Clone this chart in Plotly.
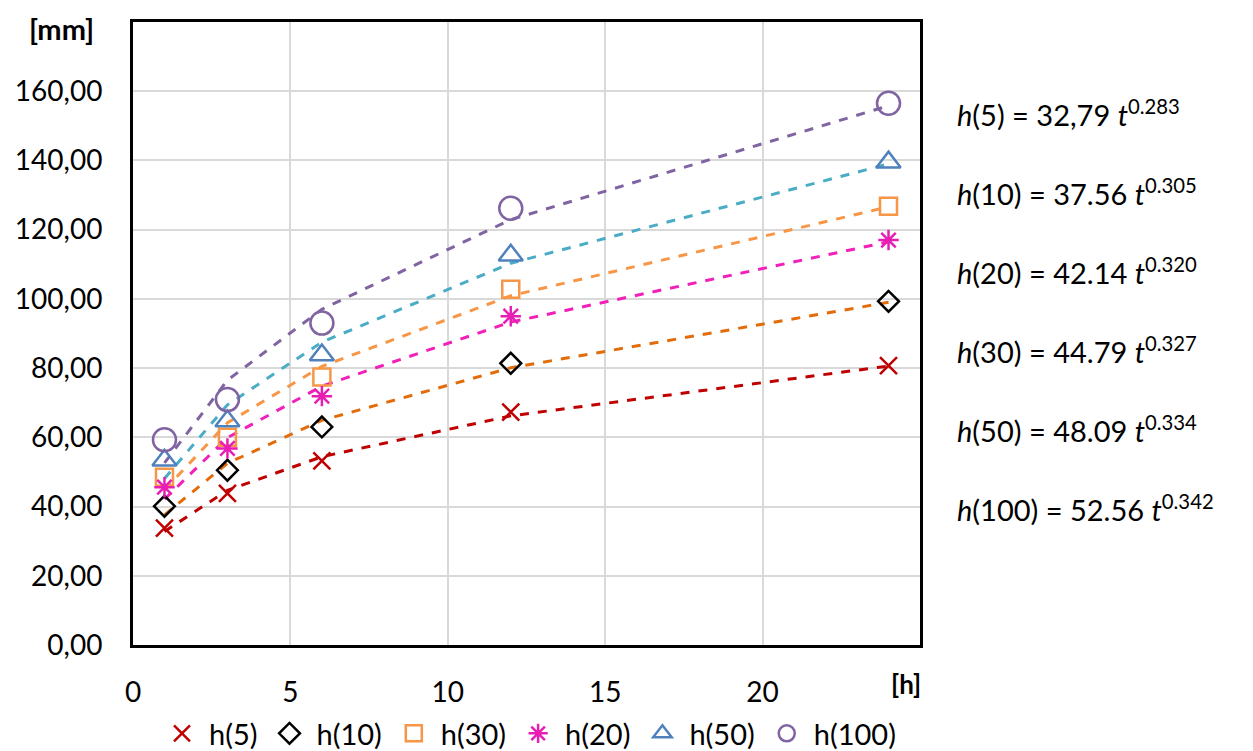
import plotly.graph_objects as go

# durations [h]
t = [1, 3, 6, 12, 24]

h5 = [33.8, 43.8, 53.2, 67.3, 80.7]
h10 = [40.1, 50.5, 63.0, 81.4, 99.3]
h30 = [48.5, 60.0, 77.4, 102.8, 126.8]
h20 = [45.6, 56.8, 71.9, 95.0, 117.0]
h50 = [53.4, 64.7, 83.8, 112.6, 139.5]
h100 = [59.3, 70.9, 93.0, 126.2, 156.5]

# dashed trend lines as drawn on the chart
tr5 = [32.8, 44.7, 54.4, 66.2, 80.6]
tr10 = [37.6, 52.5, 64.9, 80.1, 99.0]
tr30 = [44.8, 64.2, 80.5, 100.9, 126.6]
tr20 = [42.1, 59.9, 74.8, 93.3, 116.5]
tr50 = [48.1, 69.4, 87.5, 110.3, 139.0]
tr100 = [52.6, 76.5, 97.0, 122.9, 155.8]

equations = [
    "<i>h</i>(5) = 32,79 <i>t</i><sup>0.283</sup>",
    "<i>h</i>(10) = 37.56 <i>t</i><sup>0.305</sup>",
    "<i>h</i>(20) = 42.14 <i>t</i><sup>0.320</sup>",
    "<i>h</i>(30) = 44.79 <i>t</i><sup>0.327</sup>",
    "<i>h</i>(50) = 48.09 <i>t</i><sup>0.334</sup>",
    "<i>h</i>(100) = 52.56 <i>t</i><sup>0.342</sup>",
]

font = "Lato"

W, H = 1253, 751
OFF = 8  # page body margin
L, R, T, B = 133 - OFF, 333 + OFF, 22 - OFF, 106 + OFF
pw, ph = W - L - R, H - T - B


def px(x, y):
    # screen pixel position -> paper coords
    return (x - OFF - L) / pw, 1 - (y - OFF - T) / ph


fig = go.Figure()

trends = [
    (tr5, "#C00000"),
    (tr10, "#E36C0A"),
    (tr30, "#F79646"),
    (tr20, "#F020B8"),
    (tr50, "#4BACC6"),
    (tr100, "#8064A2"),
]
for y, c in trends:
    fig.add_trace(go.Scatter(x=t, y=y, mode="lines", showlegend=False,
                             line=dict(color=c, width=3, dash="dash"),
                             hoverinfo="skip"))

series = [
    ("h(5)", h5, "x-thin-open", "#C00000", 17),
    ("h(10)", h10, "diamond-open", "#000000", 16),
    ("h(30)", h30, "square-open", "#F79646", 17),
    ("h(20)", h20, "asterisk-open", "#E81EB4", 17),
    ("h(50)", h50, "triangle-up-open", "#4F81BD", 21),
    ("h(100)", h100, "circle-open", "#8064A2", 23),
]
for name, y, sym, c, sz in series:
    fig.add_trace(go.Scatter(x=t, y=y, mode="markers", name=name,
                             marker=dict(symbol=sym, size=sz, color=c,
                                         line=dict(color=c, width=2.5))))

for i, eq in enumerate(equations):
    ax, ay = px(955, 113 + i * 79)
    fig.add_annotation(x=ax, y=ay, xref="paper", yref="paper",
                       text=eq, showarrow=False, xanchor="left", yanchor="middle",
                       font=dict(size=29, color="#000000", family=font))

ax, ay = px(61, 28)
fig.add_annotation(x=ax, y=ay, xref="paper", yref="paper",
                   text="<b>[mm]</b>", showarrow=False, xanchor="center", yanchor="middle",
                   font=dict(size=29, color="#000000", family=font))
ax, ay = px(906, 684)
fig.add_annotation(x=ax, y=ay, xref="paper", yref="paper",
                   text="<b>[h]</b>", showarrow=False, xanchor="center", yanchor="middle",
                   font=dict(size=26, color="#000000", family=font))

fig.update_xaxes(range=[0, 25], tickvals=[0, 5, 10, 15, 20],
                 showgrid=True, gridcolor="#D9D9D9", gridwidth=2,
                 showline=True, linecolor="#000000", linewidth=3, mirror=True,
                 ticks="outside", ticklen=20, tickcolor="rgba(0,0,0,0)",
                 tickfont=dict(size=28, family=font, color="#000000"), zeroline=False)
fig.update_yaxes(range=[0, 180], tickvals=[0, 20, 40, 60, 80, 100, 120, 140, 160],
                 ticktext=["0,00", "20,00", "40,00", "60,00", "80,00", "100,00",
                           "120,00", "140,00", "160,00"],
                 showgrid=True, gridcolor="#D9D9D9", gridwidth=2,
                 showline=True, linecolor="#000000", linewidth=3, mirror=True,
                 ticks="outside", ticklen=22, tickcolor="rgba(0,0,0,0)",
                 tickfont=dict(size=28, family=font, color="#000000"), zeroline=False)

fig.update_layout(
    width=W, height=H,
    margin=dict(l=L, r=R, t=T, b=B, autoexpand=False),
    plot_bgcolor="#FFFFFF", paper_bgcolor="#FFFFFF",
    font=dict(family=font, color="#000000"),
    legend=dict(orientation="h", x=0.415, xanchor="center", xref="container",
                y=0.0, yanchor="bottom", yref="container",
                bgcolor="rgba(0,0,0,0)",
                font=dict(size=29, family=font), itemwidth=44,
                tracegroupgap=0),
)

fig.write_html("out.html")
